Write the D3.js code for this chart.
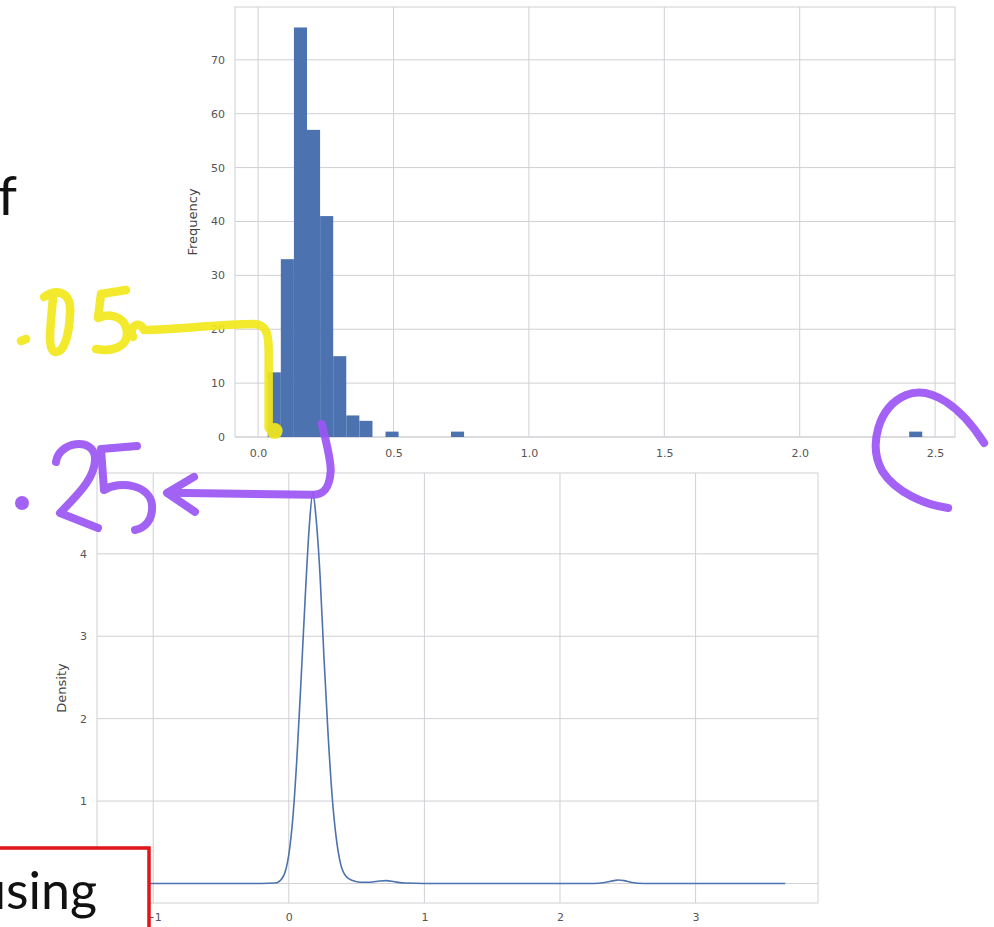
<!DOCTYPE html>
<html>
<head>
<meta charset="utf-8">
<script src="https://cdn.jsdelivr.net/npm/d3@7"></script>
<style>
  html, body { margin: 0; padding: 0; background: #ffffff; }
  svg { display: block; }
</style>
</head>
<body>
<svg id="chart" width="994" height="927"></svg>
<script>
// ---- Histogram data: lower edges of the non-empty bins, common bin width, counts
const histBinLeft = [0.0356, 0.0839, 0.1323, 0.1806, 0.2290, 0.2773, 0.3256, 0.3740, 0.4706, 0.7123, 2.4043];
const histBinWidth = 0.0483;
const histCounts = [12, 33, 76, 57, 41, 15, 4, 3, 1, 1, 1];
const histXTicks = [0.0, 0.5, 1.0, 1.5, 2.0, 2.5];
const histYTicks = [0, 10, 20, 30, 40, 50, 60, 70];
const histXDomain = [-0.0853, 2.5735];
const histYDomain = [0, 79.8];

// ---- Kernel density estimate of the same column (x, density)
const kdeX = [-1.173, -0.60, -0.20, -0.10, -0.05, -0.02, 0.00, 0.03, 0.06, 0.09, 0.12, 0.15, 0.177,
              0.20, 0.23, 0.26, 0.29, 0.32, 0.35, 0.38, 0.42, 0.47, 0.53, 0.60, 0.67, 0.72, 0.78,
              0.86, 1.00, 2.25, 2.33, 2.40, 2.43, 2.47, 2.53, 2.62, 3.661];
const kdeY = [0, 0, 0, 0.005, 0.06, 0.18, 0.35, 0.80, 1.53, 2.46, 3.44, 4.31, 4.74,
              4.45, 3.75, 2.72, 1.80, 1.05, 0.55, 0.25, 0.09, 0.035, 0.015, 0.015, 0.03, 0.035, 0.02,
              0.005, 0, 0, 0.012, 0.035, 0.042, 0.035, 0.012, 0, 0];
const kdeXTicks = [-1, 0, 1, 2, 3];
const kdeYTicks = [0, 1, 2, 3, 4];
const kdeYLabelTicks = [1, 2, 3, 4];   // the 0 label sits under the red box
const kdeXDomain = [-1.4146, 3.9028];
const kdeYDomain = [-0.237, 4.981];

// Annotated values written by hand on the slide
const noteLow = 0.05;
const notePeak = 0.235;
const noteOutlier = 2.43;

const svg = d3.select("#chart");
const GRID = "#d0d0d5";
const BAR = "#4c72b0";
const TICK_FONT = "DejaVu Sans, sans-serif";

// ---------- slide text behind the plots ----------
svg.append("text")
  .attr("x", 17).attr("y", 215)
  .attr("text-anchor", "end")
  .attr("font-family", "Lato, 'Open Sans', sans-serif")
  .attr("font-size", 55)
  .attr("fill", "#111")
  .text("f");

// ---------- generic axes frame with whitegrid styling ----------
function drawFrame(g, x, y, xTicks, yTicks, yLabelTicks, xFmt, yFmt, w, h, yLabel, xPad, labelOffset) {
  g.append("rect")
    .attr("x", 0).attr("y", 0).attr("width", w).attr("height", h)
    .attr("fill", "#fff");

  g.append("g").selectAll("line").data(xTicks).join("line")
    .attr("x1", d => x(d)).attr("x2", d => x(d))
    .attr("y1", 0).attr("y2", h)
    .attr("stroke", GRID).attr("stroke-width", 1);

  g.append("g").selectAll("line").data(yTicks).join("line")
    .attr("x1", 0).attr("x2", w)
    .attr("y1", d => y(d)).attr("y2", d => y(d))
    .attr("stroke", GRID).attr("stroke-width", 1);

  g.append("rect")
    .attr("x", 0).attr("y", 0).attr("width", w).attr("height", h)
    .attr("fill", "none").attr("stroke", GRID).attr("stroke-width", 1);

  const ax = g.append("g").attr("transform", `translate(0,${h})`)
    .call(d3.axisBottom(x).tickValues(xTicks).tickFormat(xFmt).tickSize(0).tickPadding(xPad));
  const ay = g.append("g")
    .call(d3.axisLeft(y).tickValues(yLabelTicks).tickFormat(yFmt).tickSize(0).tickPadding(10));
  [ax, ay].forEach(a => {
    a.select(".domain").remove();
    a.selectAll("text")
      .attr("font-family", TICK_FONT)
      .attr("font-size", 11)
      .attr("fill", "#555");
  });

  g.append("text")
    .attr("transform", `translate(${-labelOffset},${h / 2}) rotate(-90)`)
    .attr("text-anchor", "middle")
    .attr("font-family", TICK_FONT)
    .attr("font-size", 13)
    .attr("fill", "#444")
    .text(yLabel);
}

// ---------- histogram ----------
const hL = 235, hT = 7, hW = 720, hH = 430;
const xHist = d3.scaleLinear().domain(histXDomain).range([0, hW]);
const yHist = d3.scaleLinear().domain(histYDomain).range([hH, 0]);
const gHist = svg.append("g").attr("transform", `translate(${hL},${hT})`);
drawFrame(gHist, xHist, yHist, histXTicks, histYTicks, histYTicks,
  d3.format(".1f"), d3.format("d"), hW, hH, "Frequency", 12, 38);

gHist.append("g").selectAll("rect").data(histCounts).join("rect")
  .attr("x", (d, i) => xHist(histBinLeft[i]))
  .attr("width", (d, i) => xHist(histBinLeft[i] + histBinWidth) - xHist(histBinLeft[i]))
  .attr("y", d => yHist(d))
  .attr("height", d => yHist(0) - yHist(d))
  .attr("fill", BAR);

// ---------- density plot ----------
const dL = 97, dT = 473, dW = 721, dH = 430;
const xDen = d3.scaleLinear().domain(kdeXDomain).range([0, dW]);
const yDen = d3.scaleLinear().domain(kdeYDomain).range([dH, 0]);
const gDen = svg.append("g").attr("transform", `translate(${dL},${dT})`);
drawFrame(gDen, xDen, yDen, kdeXTicks, kdeYTicks, kdeYLabelTicks,
  d3.format("d"), d3.format("d"), dW, dH, "Density", 10, 31);

const kdePts = kdeX.map((x, i) => [x, kdeY[i]]);
gDen.append("path")
  .datum(kdePts)
  .attr("fill", "none")
  .attr("stroke", BAR)
  .attr("stroke-width", 1.6)
  .attr("d", d3.line().x(d => xDen(d[0])).y(d => yDen(d[1])).curve(d3.curveMonotoneX));

// ---------- hand-drawn annotations ----------
const ink = svg.append("g")
  .attr("fill", "none")
  .attr("stroke-linecap", "round")
  .attr("stroke-linejoin", "round");

// yellow "·05" with a line leading to the lowest bin
const YEL = "#f2e81c";
const yel = ink.append("g").attr("stroke", YEL).attr("stroke-width", 8.5).attr("opacity", 0.92);
yel.append("path").attr("d", "M21 341 L26 339");
yel.append("path").attr("d", "M44 297 C58 288 72 292 70 314 C69 336 64 352 56 352 C47 352 50 330 53 298");
yel.append("path").attr("d", "M126 290 L101 294 L98 318 C112 312 127 318 127 334 C127 347 112 352 96 349");
const yx = hL + xHist(noteLow) - 3;
const yb = hT + yHist(0) - 9;
yel.append("path").attr("d",
  `M133 337 C128 326 140 320 144 330 C175 330 220 324 ${yx - 16} 324 C${yx - 2} 324 ${yx} 334 ${yx} 350 L${yx} ${yb}`);
yel.append("circle").attr("cx", yx + 6).attr("cy", yb + 3).attr("r", 5)
  .attr("fill", YEL).attr("stroke-width", 6);

// purple ".25" with an arrow from the histogram down to the density peak
const PUR = "#9b55f4";
const pur = ink.append("g").attr("stroke", PUR).attr("stroke-width", 8).attr("opacity", 0.92);
pur.append("circle").attr("cx", 22).attr("cy", 503).attr("r", 3).attr("fill", PUR);
pur.append("path").attr("d", "M56 462 C58 442 94 436 95 458 C96 478 76 496 60 513 L98 528");
pur.append("path").attr("d", "M137 446 L101 449 L104 490 C120 480 150 485 152 505 C153 520 145 528 135 530");
const px0 = hL + xHist(notePeak);
const py0 = hT + yHist(0) - 13;
const rowY = dT + yDen(d3.max(kdeY));
const tipX = dL + xDen(kdeX[kdeY.indexOf(d3.max(kdeY))]);
pur.append("path").attr("d",
  `M${px0} ${py0} C${px0 + 4} ${py0 + 16} ${px0 + 9} ${py0 + 34} ${px0 + 9} ${rowY - 22} C${px0 + 8} ${rowY - 6} ${px0 + 3} ${rowY + 2} ${tipX} ${rowY + 2} L168 ${rowY}`);
pur.append("path").attr("d", `M194 ${rowY - 16} L167 ${rowY} L195 ${rowY + 19}`);

// purple arc circling the outlier bin
const ox = hL + xHist(noteOutlier);
const oy = hT + yHist(0);
pur.append("path").attr("d",
  `M${ox + 68} ${oy + 6} C${ox + 45} ${oy - 30} ${ox + 15} ${oy - 52} ${ox - 10} ${oy - 42} C${ox - 38} ${oy - 30} ${ox - 48} ${oy + 8} ${ox - 34} ${oy + 34} C${ox - 20} ${oy + 56} ${ox + 10} ${oy + 68} ${ox + 32} ${oy + 71}`);

// ---------- red framed box on the slide ----------
svg.append("rect")
  .attr("x", -10).attr("y", 848).attr("width", 159).attr("height", 100)
  .attr("fill", "#ffffff")
  .attr("stroke", "#e0141a").attr("stroke-width", 3.5);
svg.append("text")
  .attr("x", 97).attr("y", 909)
  .attr("text-anchor", "end")
  .attr("font-family", "Lato, 'Open Sans', sans-serif")
  .attr("font-size", 52)
  .attr("fill", "#111")
  .text("using");
</script>
</body>
</html>
